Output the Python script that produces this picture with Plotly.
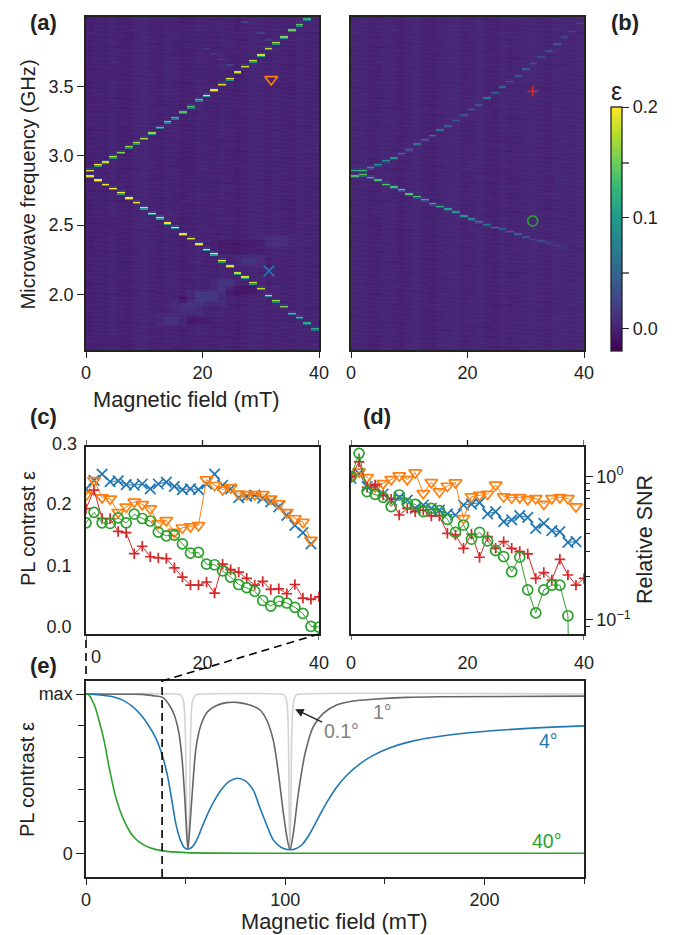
import numpy as np
import plotly.graph_objects as go

W, H = 679, 935
def fx(p): return p / W
def fy(p): return 1 - p / H

# ---- panel (a)/(b) resonance lines, one frequency per column (GHz)
a_upper = [2.898,2.934,2.960,2.992,3.023,3.064,3.092,3.128,3.169,3.205,3.243,3.277,3.318,3.354,3.402,
           3.435,3.471,3.517,3.558,3.606,3.641,3.680,3.728,3.776,3.814,3.853,3.903,3.941,3.984]
a_lower = [2.855,2.824,2.797,2.764,2.733,2.694,2.663,2.629,2.589,2.553,2.512,2.481,2.440,2.404,2.361,
           2.323,2.291,2.248,2.207,2.159,2.126,2.088,2.044,1.996,1.958,1.917,1.867,1.833,1.797,1.752]
b_upper = [2.900,2.896,2.915,2.936,2.963,2.989,3.018,3.049,3.080,3.112,3.145,3.181,3.215,3.255,3.291,
           3.332,3.368,3.411,3.454,3.493,3.536,3.579,3.625,3.670,3.711,3.754,3.805,3.855,3.900,3.951]
b_lower = [2.857,2.862,2.843,2.821,2.797,2.778,2.752,2.730,2.706,2.682,2.658,2.637,2.615,2.591,2.570,
           2.550,2.526,2.507,2.483,2.471,2.454,2.435,2.416,2.399,2.387,2.373,2.359,2.344,2.337,2.327]

# ---- panel (c): PL contrast at the field steps
field_mT = [0,1.38,2.76,4.14,5.52,6.90,8.28,9.66,11.03,12.41,13.79,15.17,16.55,17.93,19.31,
            20.69,22.07,23.45,24.83,26.21,27.59,28.97,30.34,31.72,33.10,34.48,35.86,37.24,38.62,40]
c_blue = [.224,.238,.248,.236,.237,.231,.230,.232,.224,.232,.235,.228,.223,.224,.223,
          .232,.248,.230,.224,.210,.212,.214,.209,.203,.195,.181,.165,.153,.135]
c_orange = [.214,.238,.210,.208,.186,.195,.203,.199,.192,.168,.173,.154,.161,.163,.165,
            .239,.230,.223,.226,.216,.215,.215,.215,.208,.200,.186,.176,.170,.141]
c_red = [.192,.222,.176,.176,.155,.153,.119,.131,.114,.112,.111,.096,.081,.068,.068,
         .073,.055,.102,.093,.089,.079,.068,.074,.061,.062,.054,.069,.047,.045,.049]
c_green = [.169,.186,.169,.168,.177,.169,.183,.176,.172,.154,.148,.149,.135,.120,.121,
           .102,.101,.091,.081,.069,.064,.058,.043,.034,.042,.039,.032,.022,.001,0]

# ---- panel (d): relative SNR
d_blue = [.974,1.05,.851,.83,.757,.687,.717,.687,.601,.634,.601,.585,.55,.54,.634,
          .644,.659,.55,.57,.485,.499,.534,.52,.436,.472,.42,.413,.348,.352]
d_orange = [1.0,1.08,.99,.851,.898,.958,1.016,.958,1.066,.765,.913,.786,.861,.908,.512,
            .725,.745,.757,.875,.725,.713,.717,.695,.706,.644,.706,.717,.706,.618]
d_red = [1.0,1.27,.843,.875,.745,.695,.54,.601,.57,.585,.532,.532,.402,.392,.316,
         .398,.274,.381,.316,.352,.316,.30,.289,.195,.214,.19,.265,.206,.175,.195]
d_green = [1.0,1.455,.786,.753,.717,.618,.745,.652,.641,.57,.601,.579,.504,.409,.46,
           .366,.409,.356,.305,.277,.217,.274,.162,.112,.162,.175,.175,.107,.00003]

# ---- panel (e): calculated contrast curves
e01_x = [0,45.2,47.7,49,49.9,50.5,51.2,51.9,52.5,53.4,54.9,57.7,97.5,99.5,100.8,101.6,102,102.4,102.8,103.3,104.2,105.5,108,250]
e01_v = [1,1,.994,.95,.74,.22,.03,.22,.74,.95,.994,1,1,.994,.95,.74,.22,.03,.22,.74,.95,.994,1,1]
e1_x = [0,20,28.4,33.5,38.5,41.8,44.3,46.5,48.2,49.5,50.5,51.2,52.2,53.5,55.2,57.7,61,65.3,70.6,75.6,82.3,87.35,90.7,94,96.6,99.1,101.1,102.4,104.1,106.6,110,114.1,119.1,125.8,134.2,144,161,177,250]
e1_v = [1,.999,.998,.99,.979,.931,.868,.764,.596,.366,.136,.025,.178,.408,.659,.805,.889,.927,.946,.948,.931,.90,.837,.711,.502,.251,.084,.023,.126,.377,.628,.795,.879,.931,.956,.967,.979,.983,.987]
e4_x = [0,6.7,13.4,18.4,23.4,27.6,31.8,35.1,38.5,41,43.5,45.2,47.7,49.4,51,53.5,56,58.6,61.9,65.3,68.9,72.3,76,79.8,84,87.35,90.7,94,97.4,99.9,102.4,104.9,108.3,112.5,116.6,120.8,125.8,130.9,137.5,144.2,152.6,160.9,171,184.4,199.5,216,231.5,250]
e4_v = [1,.994,.983,.962,.921,.868,.795,.722,.607,.481,.303,.18,.073,.035,.025,.042,.094,.175,.27,.35,.415,.455,.471,.456,.395,.285,.178,.084,.042,.027,.023,.027,.052,.126,.222,.318,.415,.490,.562,.615,.663,.695,.722,.746,.765,.780,.791,.80]
e40_x = [0,.84,4.2,6.7,9.2,11.7,15.1,18.4,21.8,24,26.8,31.8,38.5,50.2,65.3,100,250]
e40_v = [1,1,.931,.826,.701,.533,.345,.225,.14,.102,.07,.036,.015,.004,.001,0,0]

# ---- background texture read column-wise / row-wise from the maps
bg_col_a = [-.001,.001,.000,.002,.000,-.001,.002,.003,.001,.000,.002,.001,-.001,.000,.002,
            .001,.000,.002,.001,-.001,.001,.003,.002,.000,.002,.001,.000,.003,.001,.002]
bg_col_b = [.002,.003,.000,.001,.003,.002,.000,.002,.004,.001,.000,.002,.003,.004,.001,
            .002,.004,.001,.000,.003,.001,.002,.003,.004,.002,.001,.004,.003,.002,.004]
bg_row = [.001,-.001,.002,0,-.002,.001,.003,-.001,0,.002,-.002,.001,0,.002,-.001,.003,0,-.002,.002,.001,
          -.001,.002,0,.001,-.003,.002,.001,-.001,.003,0,-.002,.001,.002,-.001,0,.003,-.002]
# diffuse features in (a): first col, last col, low GHz, high GHz, level
patch_c0 = [9,11,13,16,19,22,10,12,14,17,20,23,12,13,18,17]
patch_c1 = [12,14,17,19,22,26,11,13,16,18,21,25,12,15,21,22]
patch_f0 = [1.78,1.85,1.93,2.02,2.20,2.33,1.80,1.872,1.956,2.04,2.22,2.351,1.944,1.80,2.004,2.30]
patch_f1 = [1.87,1.97,2.05,2.13,2.29,2.44,1.848,1.944,2.028,2.112,2.268,2.423,1.992,1.836,2.064,2.40]
patch_z = [.004,.004,.005,.004,.004,.003,.007,.006,.010,.006,.006,.006,-.005,-.006,-.008,-.005]
ghost_c = [20,22,23,15,16,17,18]
ghost_f = [3.965,3.881,3.833,3.771,3.737,3.694,3.651]

marker_a = {"x": [31.8, 31.4], "y": [3.55, 2.17]}
marker_b = {"x": [31.2, 31.2], "y": [3.465, 2.53]}

f_edges = np.linspace(1.6, 4.0, 241)
b_edges = np.linspace(0, 40, 31)

def add_line(z, freq, amp, gain, shoulder):
    for i, f in enumerate(freq):
        r = int((f - 1.6) / 0.01)
        if 0 <= r < z.shape[0]:
            v = amp[min(i, len(amp) - 1)] * gain
            z[r, i] = v
            z[r - 1, i] += v * shoulder
            if r + 1 < z.shape[0]:
                z[r + 1, i] += v * .1

def base(cols):
    z = np.zeros((240, 30))
    for r in range(240):
        for c in range(30):
            z[r, c] = cols[c] + bg_row[(r + c * 7) % len(bg_row)]
    return z

za = base(bg_col_a)
for c0, c1, f0, f1, v in zip(patch_c0, patch_c1, patch_f0, patch_f1, patch_z):
    r0, r1 = int((f0 - 1.6) / .01), int((f1 - 1.6) / .01)
    za[r0:r1, c0:c1 + 1] += v
for c, f in zip(ghost_c, ghost_f):
    za[int((f - 1.6) / .01), c] += .02
add_line(za, a_upper, c_orange, .85, .5)
add_line(za, a_lower, c_blue, .85, .5)
zb = base(bg_col_b)
add_line(zb, b_upper, c_red, .58, .25)
add_line(zb, b_lower, c_green, .78, .25)

BLUE, ORANGE, GREEN, RED = "#1f77b4", "#ff7f0e", "#2ca02c", "#d62728"
INK = "#222222"
TICK = 18

fig = go.Figure()
fig.add_trace(go.Heatmap(x=b_edges, y=f_edges, z=za, coloraxis="coloraxis", xaxis="x", yaxis="y", hoverinfo="skip"))
fig.add_trace(go.Heatmap(x=b_edges, y=f_edges, z=zb, coloraxis="coloraxis", xaxis="x2", yaxis="y2", hoverinfo="skip"))

def sym(x, y, kind, color, xa, ya, mode="markers"):
    spec = {
        "x": dict(symbol="x-thin", size=10.5),
        "v": dict(symbol="triangle-down-open", size=11),
        "+": dict(symbol="cross-thin", size=7.5),
        "o": dict(symbol="circle-open", size=10),
    }[kind]
    fig.add_trace(go.Scatter(x=x, y=y, mode=mode, xaxis=xa, yaxis=ya, showlegend=False, hoverinfo="skip",
                             line=dict(color=color, width=1),
                             marker=dict(symbol=spec["symbol"], size=spec["size"], color=color,
                                         line=dict(color=color, width=1.7))))

sym(marker_a["x"][:1], marker_a["y"][:1], "v", ORANGE, "x", "y")
sym(marker_a["x"][1:], marker_a["y"][1:], "x", BLUE, "x", "y")
sym(marker_b["x"][:1], marker_b["y"][:1], "+", RED, "x2", "y2")
sym(marker_b["x"][1:], marker_b["y"][1:], "o", GREEN, "x2", "y2")

for ya, xa, series in (("y3", "x3", (c_blue, c_orange, c_red, c_green)), ("y4", "x4", (d_blue, d_orange, d_red, d_green))):
    for vals, kind, col in zip(series, "xv+o", (BLUE, ORANGE, RED, GREEN)):
        sym(field_mT[:len(vals)], vals, kind, col, xa, ya, mode="lines+markers")

for xs, vs, col in ((e01_x, e01_v, "#d3d3d3"), (e1_x, e1_v, "#666666"), (e4_x, e4_v, BLUE), (e40_x, e40_v, GREEN)):
    fig.add_trace(go.Scatter(x=xs, y=vs, mode="lines", xaxis="x5", yaxis="y5", showlegend=False, hoverinfo="skip",
                             line=dict(color=col, width=1.6, shape="spline", smoothing=0.8)))

spine = dict(showline=True, linecolor=INK, linewidth=1.5, mirror=True, showgrid=False, zeroline=False,
             tickfont=dict(size=TICK, color=INK), tickcolor=INK, tickwidth=1.3)

def dom(p0, p1, total): return [p0 / total, p1 / total]

layout = dict(
    width=W, height=H, margin=dict(l=0, r=0, t=0, b=0, autoexpand=False), paper_bgcolor="white", plot_bgcolor="white",
    font=dict(family="Liberation Sans, Arial, sans-serif", color=INK), showlegend=False,
    coloraxis=dict(cmin=-.02, cmax=.2, colorscale="Viridis",
                   colorbar=dict(x=fx(611), xanchor="left", y=fy(351), yanchor="bottom",
                                 len=244 / H, lenmode="fraction",
                                 thickness=11, thicknessmode="pixels", xpad=0, ypad=0, outlinewidth=1.3, outlinecolor=INK,
                                 ticks="outside", ticklen=7, tickwidth=1.3, tickcolor=INK,
                                 tickmode="array", tickvals=[0, .1, .2], ticktext=["0.0", "0.1", "0.2"],
                                 tickfont=dict(size=TICK, color=INK))),
)
y_a = [1 - 350 / H, 1 - 17 / H]
y_c = [1 - 634 / H, 1 - 447 / H]
layout["xaxis"] = dict(domain=dom(86, 319, W), range=[0, 40], tickmode="array", tickvals=[0, 20, 40], ticks="outside", ticklen=6, anchor="y", **spine)
layout["yaxis"] = dict(domain=y_a, range=[1.6, 4.0], tickmode="array", tickvals=[2, 2.5, 3, 3.5], ticktext=["2.0", "2.5", "3.0", "3.5"], ticks="outside", ticklen=7, anchor="x", **spine)
layout["xaxis2"] = dict(domain=dom(351, 584, W), range=[0, 40], tickmode="array", tickvals=[0, 20, 40], ticks="outside", ticklen=6, anchor="y2", **spine)
layout["yaxis2"] = dict(domain=y_a, range=[1.6, 4.0], showticklabels=False, ticks="", anchor="x2", **spine)
layout["xaxis3"] = dict(domain=dom(86, 319, W), range=[0, 40], tickmode="array", tickvals=[20, 40], ticks="", ticklabelstandoff=12, anchor="y3", **spine)
layout["yaxis3"] = dict(domain=y_c, range=[-.0113, .292], tickmode="array", tickvals=[0, .1, .2], ticktext=["0.0", "0.1", "0.2"], ticks="", ticklabelstandoff=9, anchor="x3", **spine)
layout["xaxis4"] = dict(domain=dom(351, 584, W), range=[0, 40], tickmode="array", tickvals=[0, 20, 40], ticks="", ticklabelstandoff=12, anchor="y4", **spine)
layout["yaxis4"] = dict(domain=y_c, type="log", range=[-1.098, .207], side="right", tickmode="array", tickvals=[.1, 1],
                        ticktext=["10<sup>\u22121</sup>", "10<sup>0</sup>"], ticks="outside", ticklen=7,
                        minor=dict(tickmode="array", tickvals=[.09, .2, .3, .4, .5, .6, .7, .8, .9], ticks="outside", ticklen=4, tickcolor=INK, tickwidth=1.1),
                        anchor="x4", **spine)
layout["xaxis5"] = dict(domain=dom(86, 584, W), range=[0, 250], tickmode="array", tickvals=[0, 100, 200], ticks="outside", ticklen=6,
                        minor=dict(tickmode="array", tickvals=[50, 150, 250], ticks="outside", ticklen=5, tickcolor=INK, tickwidth=1.3),
                        anchor="y5", **spine)
layout["yaxis5"] = dict(domain=[1 - 877 / H, 1 - 681 / H], range=[-.149, 1.082], tickmode="array", tickvals=[0, 1], ticktext=["0", "max"], ticks="outside", ticklen=8,
                        minor=dict(tickmode="array", tickvals=[.2, .4, .6, .8], ticks="outside", ticklen=6, tickcolor=INK, tickwidth=1.3),
                        anchor="x5", **spine)
fig.update_layout(**layout)

def note(px, py, text, size=20.5, color=INK, angle=0, bold=False):
    fig.add_annotation(xref="paper", yref="paper", x=fx(px), y=fy(py), text=("<b>%s</b>" % text) if bold else text,
                       showarrow=False, xanchor="center", yanchor="middle", textangle=angle,
                       font=dict(size=size, color=color))

note(43, 22, "(a)", 22, bold=True)
note(625, 22, "(b)", 22, bold=True)
note(43, 416, "(c)", 22, bold=True)
note(377, 416, "(d)", 22, bold=True)
note(43, 665, "(e)", 22, bold=True)
note(28, 184.5, "Microwave frequency (GHz)", 20.2, angle=-90)
note(186, 400, "Magnetic field (mT)", 21.8)
note(334, 921, "Magnetic field (mT)", 21.8)
note(28, 529, "PL contrast \u03b5", 20, angle=-90)
note(27, 780, "PL contrast \u03b5", 20, angle=-90)
note(645, 540, "Relative SNR", 21.5, angle=-90)
note(616, 91, "\u03b5", 25)
note(64, 444, "0.3", TICK)
note(96, 657, "0", TICK)
note(382, 712, "1\u00b0", 19.5, "#808080")
note(548, 741, "4\u00b0", 19.5, BLUE)
note(547, 841, "40\u00b0", 19.5, GREEN)
fig.add_annotation(xref="x5", yref="y5", x=105, y=.905, text="0.1\u00b0", showarrow=True, ax=46, ay=22, axref="pixel", ayref="pixel",
                   arrowhead=2, arrowsize=1.3, arrowwidth=1.3, arrowcolor=INK, standoff=0, font=dict(size=19.5, color="#808080"))

dash = dict(color="black", width=1.6, dash="8px,5px")
fig.add_shape(type="line", xref="paper", yref="paper", x0=fx(86), x1=fx(86), y0=fy(640), y1=fy(680), line=dash)
fig.add_shape(type="line", xref="paper", yref="paper", x0=fx(319), x1=fx(162), y0=fy(634), y1=fy(681), line=dash)
fig.add_shape(type="line", xref="x5", yref="paper", x0=38.2, x1=38.2, y0=fy(877), y1=fy(681), line=dash)
stub = dict(color=INK, width=1.3)
for xa in ("x3", "x4"):
    for v in (0, 20, 40):
        fig.add_shape(type="line", xref=xa, yref="paper", x0=v, x1=v, y0=fy(447), y1=fy(440), line=stub)
    for v in (0, 40):
        fig.add_shape(type="line", xref=xa, yref="paper", x0=v, x1=v, y0=fy(634), y1=fy(640), line=stub)
for py in (163, 273):
    fig.add_shape(type="line", xref="paper", yref="paper", x0=fx(622), x1=fx(629), y0=fy(py), y1=fy(py), line=stub)

fig.write_html("out.html", config={"displayModeBar": False},
               post_script="document.body.style.margin='0';document.body.style.overflow='hidden';")
